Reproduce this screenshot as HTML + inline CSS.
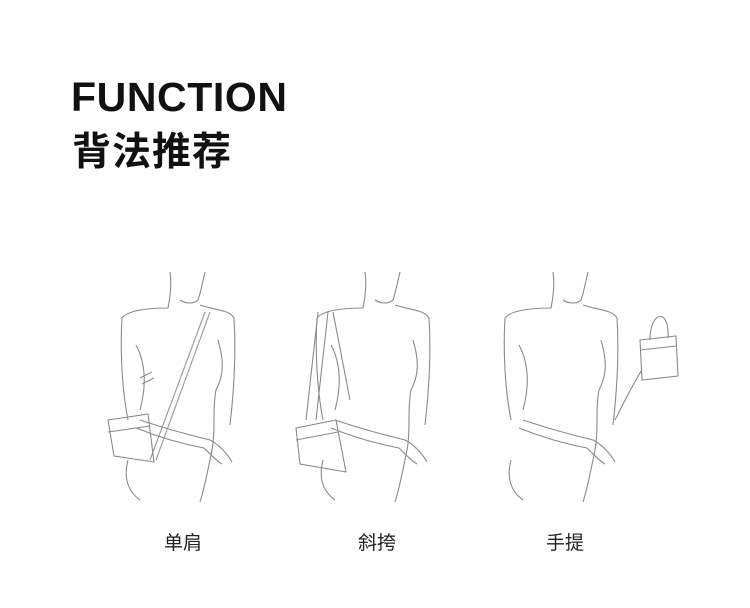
<!DOCTYPE html>
<html><head><meta charset="utf-8"><style>
body{margin:0;width:750px;height:608px;background:#fff;overflow:hidden;position:relative;font-family:"Liberation Sans","Noto Sans CJK SC",sans-serif}
.t1{position:absolute;left:71px;top:74px;font-size:41px;font-weight:bold;color:#111;letter-spacing:0.6px}
.t2{position:absolute;left:72px;top:121px;font-size:39px;font-weight:bold;color:#111;letter-spacing:1px}
.l{position:absolute;top:528px;font-size:19px;color:#222}
svg{position:absolute;left:0;top:0}
</style></head><body>
<div class="t1">FUNCTION</div>
<div class="t2">背法推荐</div>
<div class="l" style="left:164px">单肩</div>
<div class="l" style="left:358px">斜挎</div>
<div class="l" style="left:546px">手提</div>
<svg width="750" height="608" fill="none" stroke="#8a8a8a" stroke-width="1.1">
<defs>
<g id="body">
<path d="M70 272 C72 285 70 298 68 308 C50 308 28 310 22 318 C20 350 22 390 28 420"/>
<path d="M105 272 C102 285 100 295 98 300 C94 304 86 304 80 300"/>
<path d="M100 305 C115 310 130 310 134 318 C136 350 134 390 130 425"/>
<path d="M36 345 C44 360 48 380 40 410"/>
<path d="M118 340 C124 360 124 375 116 390 C112 410 116 430 112 450 C108 470 104 490 100 502"/>
<path d="M28 460 C24 475 26 490 40 500"/>
<path d="M40 420 C70 430 90 435 110 440 C120 445 128 455 132 462"/>
<path d="M36 428 C66 440 88 445 104 448 C112 456 118 462 122 464"/>
</g>
</defs>
<use href="#body" x="100" y="0"/>
<path d="M205 312 L150 460 M210 312 L156 460" stroke="#999"/>
<path d="M140 378 L152 372 M142 384 L154 378"/>
<path d="M108 420 L148 414 L154 462 L114 456 Z"/>
<path d="M108 432 L150 426"/>
<use href="#body" x="295" y="0"/>
<path d="M328 312 L316 420 M333 312 L350 400 M318 312 L306 420"/>
<path d="M296 428 L336 420 L346 472 L300 464 Z"/>
<path d="M296 440 L338 432"/>
<use href="#body" x="483" y="0"/>
<path d="M640 340 L676 336 L678 376 L642 380 Z"/>
<path d="M640 350 L676 346"/>
<path d="M650 340 C650 310 670 308 668 338"/>
<path d="M615 420 C625 400 635 380 642 370"/>
</svg>
</body></html>
